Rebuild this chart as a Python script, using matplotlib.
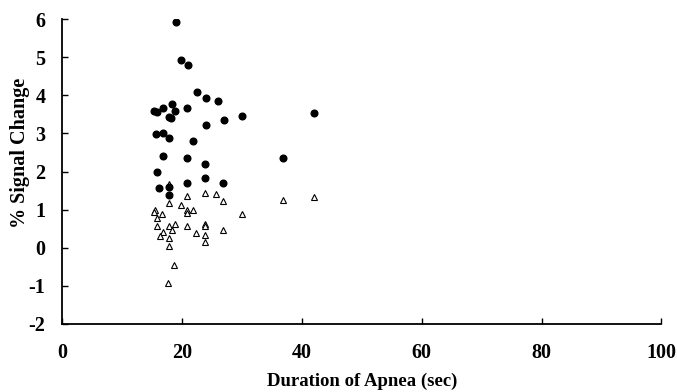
import matplotlib
matplotlib.use('Agg')
import matplotlib.pyplot as plt

# filled circles (upper series)
circ_x = [19.0, 19.9, 21.0, 22.6, 24.0, 26.0, 15.4, 15.8, 16.9, 18.4, 18.9, 20.9,
          17.8, 18.1, 27.0, 30.0, 24.0, 15.7, 16.9, 17.9, 21.9, 16.9, 20.9, 23.9,
          36.8, 42.0, 15.9, 23.8, 16.2, 17.8, 17.8, 20.8, 26.8]
circ_y = [5.93, 4.93, 4.79, 4.08, 3.92, 3.84, 3.58, 3.55, 3.66, 3.77, 3.60, 3.66,
          3.44, 3.40, 3.34, 3.45, 3.22, 2.98, 3.01, 2.88, 2.80, 2.40, 2.36, 2.20,
          2.36, 3.53, 1.98, 1.83, 1.58, 1.38, 1.60, 1.71, 1.71]

# open triangles (lower series)
tri_x = [17.8, 20.8, 23.8, 25.7, 26.8, 36.8, 42.0, 17.8, 19.8, 15.5, 15.3, 16.7,
         20.8, 20.8, 21.9, 30.0, 15.9, 15.8, 17.8, 18.8, 18.3, 20.8, 23.8, 23.8,
         26.8, 16.8, 16.4, 17.8, 22.4, 23.8, 17.8, 23.8, 18.7, 17.6]
tri_y = [1.67, 1.36, 1.44, 1.40, 1.23, 1.24, 1.34, 1.17, 1.13, 1.00, 0.93, 0.89,
         0.99, 0.91, 0.99, 0.88, 0.77, 0.58, 0.56, 0.61, 0.47, 0.57, 0.62, 0.56,
         0.47, 0.40, 0.31, 0.25, 0.38, 0.34, 0.05, 0.14, -0.46, -0.92]

x_ticks = [0, 20, 40, 60, 80, 100]
y_ticks = [-2, -1, 0, 1, 2, 3, 4, 5, 6]

plt.rcParams['font.family'] = ['Liberation Serif', 'DejaVu Serif']
plt.rcParams['font.weight'] = 'bold'
plt.rcParams['axes.unicode_minus'] = False

fig = plt.figure(figsize=(6.77, 3.92), dpi=100)
ax = fig.add_axes([0.0916, 0.1735, 0.8854, 0.778])

ax.plot(tri_x, tri_y, linestyle='none', marker='^', markersize=4.5,
        markerfacecolor='white', markeredgecolor='black', markeredgewidth=0.8)
ax.plot(circ_x, circ_y, linestyle='none', marker='o', markersize=4.8,
        color='black')

ax.set_xlim(0, 100)
ax.set_ylim(-2, 6)
ax.set_xticks(x_ticks)
ax.set_yticks(y_ticks)
ax.spines['top'].set_visible(False)
ax.spines['right'].set_visible(False)
for s in ['left', 'bottom']:
    ax.spines[s].set_linewidth(1.3)
ax.tick_params(direction='in', length=4, width=1, labelsize=14.5)
ax.tick_params(axis='x', pad=14)
ax.tick_params(axis='y', pad=12)

ax.set_xlabel('Duration of Apnea (sec)', fontsize=13.5, fontweight='bold')
ax.set_ylabel('% Signal Change', fontsize=14.5, fontweight='bold')
ax.xaxis.set_label_coords(0.5, -0.16)
ax.yaxis.set_label_coords(-0.053, 0.56)

fig.savefig('out.png', dpi=100)
